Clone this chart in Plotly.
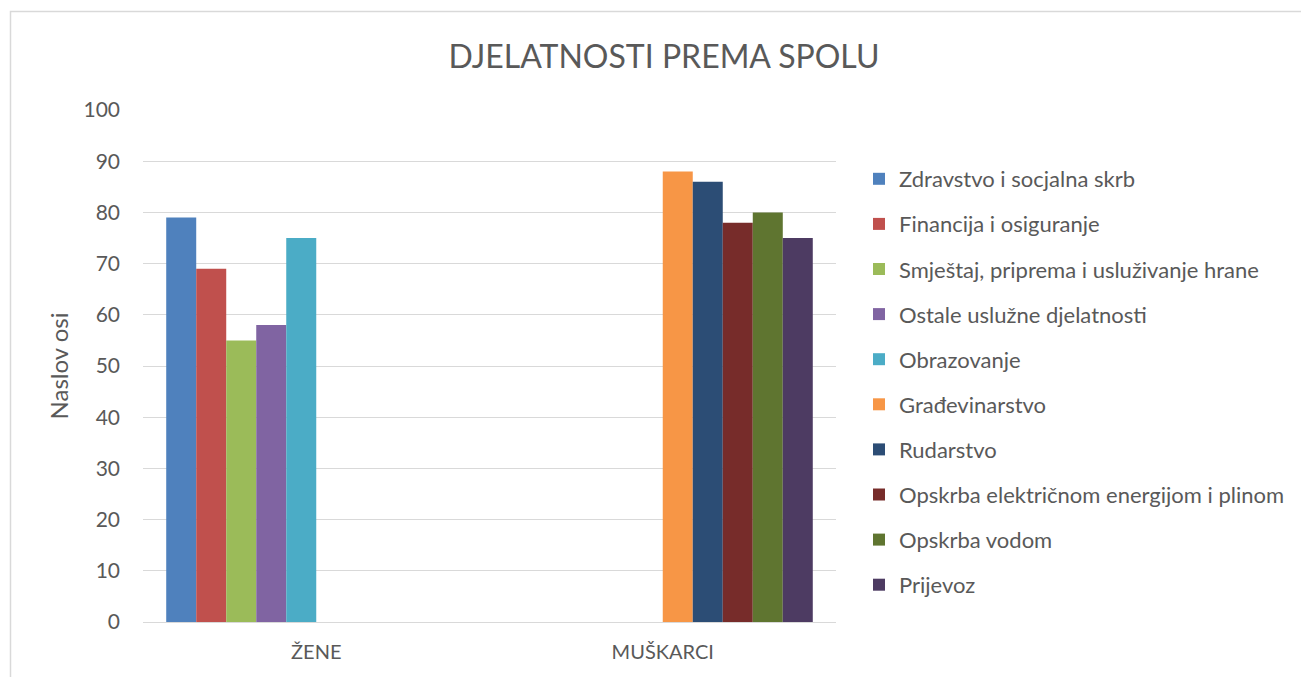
import plotly.graph_objects as go

categories = ["ŽENE", "MUŠKARCI"]
series_names = [
    "Zdravstvo i socjalna skrb",
    "Financija i osiguranje",
    "Smještaj, priprema i usluživanje hrane",
    "Ostale uslužne djelatnosti",
    "Obrazovanje",
    "Građevinarstvo",
    "Rudarstvo",
    "Opskrba električnom energijom i plinom",
    "Opskrba vodom",
    "Prijevoz",
]
zene_values = [79, 69, 55, 58, 75, None, None, None, None, None]
muskarci_values = [None, None, None, None, None, 88, 86, 78, 80, 75]
colors = ["#4F81BD", "#C0504D", "#9BBB59", "#8064A2", "#4BACC6",
          "#F79646", "#2C4D75", "#772C2A", "#5F7530", "#4D3B62"]
y_ticks = [0, 10, 20, 30, 40, 50, 60, 70, 80, 90, 100]

FONT = "Lato"
TXT = "#595959"

fig = go.Figure()
for i, name in enumerate(series_names):
    fig.add_trace(go.Bar(
        x=categories,
        y=[zene_values[i], muskarci_values[i]],
        name=name,
        marker=dict(color=colors[i], line=dict(width=0)),
        legendgroup=f"g{i}",
    ))

OFF = 8  # default page body margin
W, H = 1309 - OFF, 677 - OFF
# plot area in page pixels
L, R, T, B = 143, 836, 110, 622
pw, ph = R - L, B - T

def px(x):
    return (x - L) / pw

def py(y):
    return (B - y) / ph

fig.update_layout(
    width=W, height=H,
    margin=dict(l=L - OFF, r=W - (R - OFF), t=T - OFF, b=H - (B - OFF), autoexpand=False),
    paper_bgcolor="white", plot_bgcolor="white",
    barmode="group", bargap=0.134, bargroupgap=0,
    font=dict(family=FONT, color=TXT, size=20),
    title=dict(text="DJELATNOSTI PREMA SPOLU", x=px(664), xref="paper", xanchor="center",
               y=1 - (57 - OFF) / H, yanchor="middle", font=dict(size=32, color=TXT, family=FONT)),
    xaxis=dict(showgrid=False, showline=False, zeroline=False, ticks="",
               tickfont=dict(size=20, color=TXT), ticklabelstandoff=16),
    yaxis=dict(range=[0, 100], tickvals=y_ticks, showgrid=True, gridcolor="#D9D9D9",
               gridwidth=1, zeroline=True, zerolinecolor="#D9D9D9", zerolinewidth=1,
               showline=False, ticks="", tickfont=dict(size=21, color=TXT),
               ticklabelstandoff=22,
               title=dict(text="Naslov osi", font=dict(size=24, color=TXT), standoff=8)),
    legend=dict(x=px(859), xanchor="left", y=py(158), yanchor="top",
                font=dict(size=22, color=TXT), tracegroupgap=13.5, itemwidth=30,
                itemclick=False, bgcolor="rgba(0,0,0,0)", traceorder="grouped"),
    showlegend=True,
    shapes=[dict(type="rect", xref="paper", yref="paper",
                 x0=px(10.5), x1=px(1308), y0=py(700), y1=py(11.5),
                 line=dict(color="#D9D9D9", width=1.5), fillcolor="rgba(0,0,0,0)", layer="below")],
)

fig.write_html("out.html")
